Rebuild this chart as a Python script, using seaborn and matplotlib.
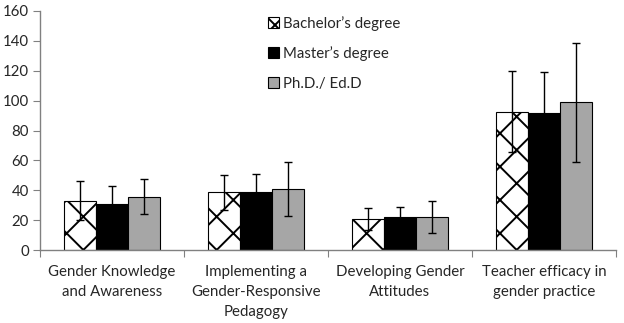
import matplotlib
matplotlib.use("Agg")
import matplotlib.pyplot as plt
import seaborn as sns
import pandas as pd
from matplotlib.patches import Patch

categories = ["Gender Knowledge\nand Awareness",
              "Implementing a\nGender-Responsive\nPedagogy",
              "Developing Gender\nAttitudes",
              "Teacher efficacy in\ngender practice"]
groups = ["Bachelor\u2019s degree", "Master\u2019s degree", "Ph.D./ Ed.D"]
bachelor = [33, 38.5, 21, 92.5]
master = [31, 39, 22, 92]
phd = [35.8, 41, 22.3, 98.8]
bachelor_sd = [13, 12, 7.3, 27]
master_sd = [12, 12, 7, 27]
phd_sd = [11.5, 18.2, 10.8, 40]

values = [bachelor, master, phd]
sds = [bachelor_sd, master_sd, phd_sd]
colors = ["#ffffff", "#000000", "#a6a6a6"]

rows = []
for g, vals in zip(groups, values):
    for c, v in zip(categories, vals):
        rows.append({"cat": c, "grp": g, "val": v})
df = pd.DataFrame(rows)

sns.set_style("white")
plt.rcParams["font.family"] = ["Lato", "DejaVu Sans"]
plt.rcParams["hatch.linewidth"] = 1.4

fig = plt.figure(figsize=(6.24, 3.23), dpi=100)
ax = fig.add_axes([40/624, 1 - 250/323, 576/624, 239/323])

sns.barplot(data=df, x="cat", y="val", hue="grp", palette=colors,
            errorbar=None, width=0.67, edgecolor="black", linewidth=0.8,
            ax=ax, legend=False, saturation=1)

bar_containers = list(ax.containers)
for i, cont in enumerate(bar_containers):
    for j, bar in enumerate(cont.patches):
        if i == 0:
            bar.set_hatch("x")
        xc = bar.get_x() + bar.get_width() / 2
        ax.errorbar(xc, values[i][j], yerr=sds[i][j], color="black",
                    capsize=2.8, elinewidth=1, capthick=1, zorder=5)

ax.set_ylim(0, 160)
ax.set_xlim(-0.5, 3.5)
ax.set_yticks(range(0, 161, 20))
ax.set_xlabel("")
ax.set_ylabel("")
ax.set_xticks([-0.5, 0.5, 1.5, 2.5, 3.5], minor=False)
ax.set_xticklabels([])
ax.set_xticks([0, 1, 2, 3], minor=True)
ax.set_xticklabels(categories, minor=True, fontsize=10.8, va="top")
for lab in ax.get_xticklabels(minor=True):
    lab.set_linespacing(1.55)
ax.tick_params(axis="x", which="minor", length=0, pad=11)
ax.tick_params(axis="x", which="major", length=5, direction="out", color="#808080", bottom=True)
ax.tick_params(axis="y", length=5, direction="out", color="#808080", left=True, labelsize=10.8, pad=3)
for s in ["top", "right"]:
    ax.spines[s].set_visible(False)
for s in ["left", "bottom"]:
    ax.spines[s].set_color("#808080")
    ax.spines[s].set_linewidth(1)

handles = [Patch(facecolor=colors[0], edgecolor="black", hatch="xx", linewidth=0.8),
           Patch(facecolor=colors[1], edgecolor="black", linewidth=0.8),
           Patch(facecolor=colors[2], edgecolor="black", linewidth=0.8)]
ax.legend(handles, groups, loc="upper left", bbox_to_anchor=(214/576, 1.035),
          frameon=False, fontsize=10.8, handlelength=0.75, handleheight=0.75,
          handletextpad=0.3, labelspacing=1.02)

fig.savefig("out.png", dpi=100)
